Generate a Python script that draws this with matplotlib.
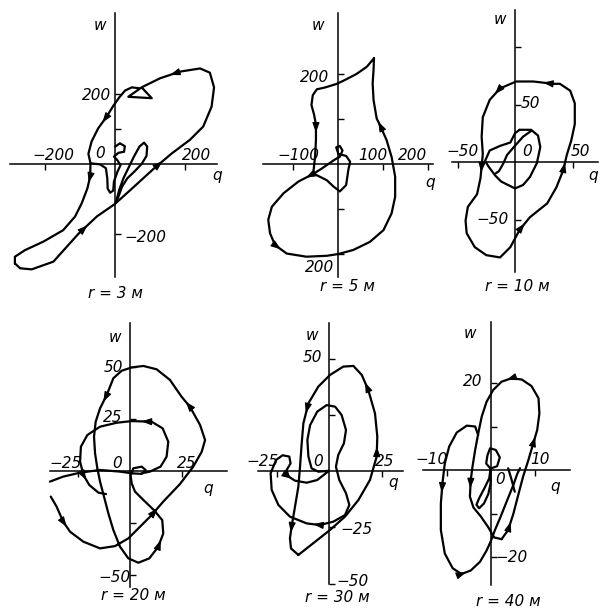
# Hodographs of (q, w) for six distances r, redrawn from a scanned figure
import numpy as np
import matplotlib.pyplot as plt

W, H = 600, 613

# ---- r = 3 m ----
q3_outer = [-286, -271, -238, -176, -105, -52, 0, 52, 110, 162, 214, 252, 276, 283, 271, 243,
            186, 129, 76, 105, 38, 72, 48, 29, 12, -5, -24, -48, -67, -76, -70, -71, -79, -95,
            -114, -148, -205, -257, -286]
w3_outer = [-284, -298, -301, -279, -200, -150, -114, -67, -14, 30, 69, 107, 164, 219, 261, 273,
            264, 245, 219, 188, 192, 216, 219, 210, 190, 166, 135, 102, 64, 29, 2, -36, -70, -112,
            -150, -189, -222, -246, -265]
q3_droop = [-70, -43, -26, -22, -21, -14, -5, -3, 7, 16, 5, -3, 10, 26, 28, 14, 1]
w3_droop = [2, -1, -12, -41, -70, -82, -76, -50, -22, -3, 13, 21, 32, 35, 51, 59, 50]
q3_loop = [5, 12, 24, 38, 54, 70, 83, 92, 90, 76, 55, 35, 20, 10, 0]
w3_loop = [-101, -74, -41, -12, 21, 50, 61, 50, 23, 0, -22, -41, -65, -93, -114]

# ---- r = 5 m ----
q5 = [80, 64, 41, 16, -3, -29, -47, -56, -59, -53, -49, -49, -51, -55, -25, -10, 4, 18, 23, 27,
      18, 1, -4, 4, 10, 4, -7, -36, -55, -88, -121, -147, -155, -151, -140, -114, -70, -25, 1, 34,
      71, 101, 119, 127, 127, 119, 108, 93, 86, 79, 77, 79]
w5 = [235, 216, 200, 187, 178, 170, 166, 153, 131, 109, 87, 53, 16, -21, -36, -50, -61, -47, -13, 5,
      18, 22, 37, 40, 30, 16, 10, -10, -22, -39, -65, -95, -124, -154, -180, -199, -206, -204, -200, -191,
      -173, -147, -110, -73, -28, 16, 53, 87, 101, 142, 179, 209]

# ---- r = 10 m ----
q10_outer = [33, 16, 1, -13, -22, -28, -29, -28, -29, -30, -33, -41, -43, -42, -35, -25, -13, -4,
             4, 13, 28, 36, 42, 45, 49, 52, 52, 48, 39]
w10_outer = [68, 70, 70, 64, 54, 39, 22, 7, -4, -14, -28, -39, -51, -62, -74, -81, -83, -74,
             -59, -48, -36, -22, -7, 6, 19, 33, 51, 62, 68]
q10_inner = [4, 14, 20, 22, 19, 13, 7, 0, -6, -12, -17, -23, -26, -22, -13, -4, 0]
w10_inner = [28, 28, 23, 13, -1, -13, -20, -23, -20, -17, -12, -4, 1, 10, 14, 17, 25]
q10_s = [14, 7, -1, -7, -10, -14, -17]
w10_s = [27, 22, 13, 6, -1, -8, -10]

# ---- r = 20 m ----
q20_outer = [-38.1, -35.3, -32.1, -28.8, -22.4, -14.4, -7.2, -0.8, 4.8, 10.4, 16.0, 24.0, 30.4, 34.5,
             36.1, 33.7, 28.8, 24.8, 19.2, 12.8, 6.4, 0.8, -4.0, -8.0, -11.2, -14.4, -16.5, -17.3,
             -16.8, -15.7, -14.4, -12.5, -10.4, -8.0, -4.8, -0.8, 4.0, 9.3, 13.6, 16.0, 15.5, 11.5,
             6.4, 2.4, 0.8, 0.3, 1.6, 5.6, 7.5, 5.6, 0.8, -4.8, -14.4, -24.0, -32.1, -38.5]
w20_outer = [-12.3, -17.1, -24.4, -29.2, -34.0, -37.2, -36.1, -32.4, -26.8, -21.2, -14.7, -6.3, 2.1, 9.3,
             14.9, 22.1, 30.9, 35.7, 43.8, 48.9, 50.5, 49.8, 48.2, 44.6, 36.5, 30.1, 23.7, 16.5,
             8.5, 1.3, -5.1, -12.3, -20.4, -28.4, -36.4, -42.0, -44.1, -42.0, -36.4, -30.0, -23.6, -18.8,
             -13.9, -9.9, -5.9, -2.2, 1.3, 2.1, 0.5, -1.4, -1.1, -0.3, 0.5, -0.8, -2.7, -5.1]
q20_inner = [5.6, 9.6, 14.7, 17.6, 18.4, 15.7, 10.4, 0.8, -6.4, -14.4, -20.5, -23.6, -24.0, -22.4,
             -19.6, -15.2, -11.5]
w20_inner = [-1.1, -0.3, 2.1, 6.9, 14.1, 20.5, 23.7, 24.0, 23.2, 21.3, 17.3, 11.7, 4.5, -1.9,
             -6.7, -10.4, -11.1]

# ---- r = 30 m ----
q30_outer = [-14.6, -7.5, 0.5, 7.6, 14.0, 19.5, 22.7, 23.0, 21.9, 18.7, 15.6, 11.6, 6.8, 0.5,
             -5.1, -9.8, -12.2, -13.0, -13.8, -14.6, -16.2, -17.8, -18.6, -18.1]
w30_outer = [-37.3, -32.1, -26.2, -20.3, -12.9, -4.0, 6.4, 15.3, 25.6, 36.0, 42.7, 46.7, 46.4, 42.7,
             37.5, 30.1, 21.2, 12.3, 1.9, -7.0, -15.9, -24.7, -29.9, -34.4]
q30_inner = [0, -5.1, -8.3, -9.8, -10.3, -9.0, -5.6, -1.1, 2.9, 6.0, 8.1, 7.1, 4.4, 3.3, 4.9, 8.1,
             9.7, 7.6, 2.1, -4.3, -10.6, -18.6, -24.1, -27.3, -27.8, -25.2, -22.1, -18.9, -18.3,
             -20.2, -19.2, -16.2, -10.6, -5.6, -1.9]
w30_inner = [0.1, -0.3, 1.2, 6.4, 13.8, 20.4, 26.4, 29.3, 28.6, 24.9, 18.2, 12.3, 7.1, 1.9, -4.0, -9.9,
             -15.1, -19.6, -22.5, -24.0, -23.3, -20.3, -15.1, -8.4, -1.0, 4.9, 7.0, 6.4, 3.4,
             0.4, -2.5, -4.3, -5.2, -4.0, -1.3]

# ---- r = 40 m ----
q40_right = [2.4, 3.9, 5.1, 6.2, 7.3, 8.5, 9.6, 10.5, 11.0, 10.8, 9.2, 7.0, 4.7, 2.4, 0.5, -1.0,
             -2.1, -2.9, -3.6, -4.2, -4.6, -4.8, -4.0, -2.3, -0.6, 0.7]
w40_right = [-15.9, -13.8, -10.0, -5.7, -1.5, 2.3, 6.1, 9.2, 13.0, 16.5, 19.3, 20.8, 21.1, 20.3, 18.4, 15.7,
             12.3, 8.4, 4.6, 0.8, -2.3, -6.1, -8.6, -10.7, -13.2, -15.5]
q40_left = [-2.9, -3.6, -5.5, -7.8, -9.5, -10.5, -11.0, -11.4, -11.4, -10.5, -8.7, -6.7, -4.6,
            -2.5, -1.0, -0.1, 0.9, 2.2, 3.7, 5.1, 6.0, 6.6]
w40_left = [8.0, 10.0, 10.2, 8.6, 5.4, 1.5, -2.7, -7.7, -13.8, -19.2, -22.6, -23.9, -23.1,
            -21.1, -18.5, -16.5, -13.8, -10.7, -6.9, -3.4, -0.8, 0.4]
q40_arm = [3.9, 4.7, 5.4]
w40_arm = [0.4, -2.3, -5.0]
q40_eight = [-0.1, -1.1, -0.8, -0.2, 1.1, 2.0, 1.4, -0.1, -0.1, -0.1, -0.6, -1.6, -2.7, -3.3,
             -2.7, -1.4, -0.4, -0.1]
w40_eight = [0.3, 1.5, 3.4, 5.0, 4.6, 2.9, 0.9, 0.3, -0.8, -3.1, -5.5, -7.7, -8.8, -8.0,
             -6.5, -4.0, -1.9, 0.3]

fig = plt.figure(figsize=(W / 100, H / 100), dpi=100)
fig.patch.set_facecolor('white')

LW = 1.6


def make_panel(ox, oy, sx, sy, box, xb, yb, xt, yt):
    # box in pixels (x0, y0, x1, y1); origin (ox, oy) in pixels; sx, sy pixels per unit
    x0, y0, x1, y1 = box
    ax = fig.add_axes([x0 / W, 1 - y1 / H, (x1 - x0) / W, (y1 - y0) / H])
    ax.set_xlim((x0 - ox) / sx, (x1 - ox) / sx)
    ax.set_ylim((oy - y1) / sy, (oy - y0) / sy)
    ax.patch.set_alpha(0)
    ax.spines['top'].set_visible(False)
    ax.spines['right'].set_visible(False)
    ax.spines['left'].set_position(('data', 0))
    ax.spines['bottom'].set_position(('data', 0))
    ax.spines['left'].set_bounds(*yb)
    ax.spines['bottom'].set_bounds(*xb)
    for sp in ('left', 'bottom'):
        ax.spines[sp].set_linewidth(1.1)
    ax.set_xticks(xt)
    ax.set_yticks(yt)
    ax.set_xticklabels([])
    ax.set_yticklabels([])
    ax.tick_params(axis='x', direction='out', length=4, width=1.0)
    ax.tick_params(axis='y', direction='in', length=4, width=1.0)
    return ax


def curve(ax, q, w, arrows=(), closed=False):
    q = list(q)
    w = list(w)
    if closed:
        q = q + q[:1]
        w = w + w[:1]
    ax.plot(q, w, color='black', lw=LW, solid_joinstyle='round', solid_capstyle='round')
    for i in arrows:
        xm = (q[i] + q[i + 1]) / 2
        ym = (w[i] + w[i + 1]) / 2
        ax.annotate('', xy=(xm, ym), xytext=(q[i], w[i]),
                    arrowprops=dict(arrowstyle='-|>,head_length=0.5,head_width=0.18',
                                    color='black', lw=0.8, shrinkA=0, shrinkB=0,
                                    mutation_scale=12))


def label(x, y, s, size=11):
    fig.text(x / W, 1 - y / H, s, ha='center', va='center', style='italic', fontsize=size)


# panel r = 3 m
ax = make_panel(115, 164, 0.35, 0.35, (0, 5, 225, 285), (-300, 291), (-323, 431),
                [-200, 200], [-200, 100, 200])
curve(ax, q3_outer, w3_outer, arrows=[4, 8, 16, 26, 31], closed=True)
curve(ax, q3_droop, w3_droop)
curve(ax, q3_loop, w3_loop)
for s, x, y in [('\u2212200', 53, 155), ('200', 197, 155), ('0', 100, 154), ('200', 97, 96),
                ('\u2212200', 145, 238), ('w', 100, 25), ('q', 217, 176), ('r = 3 м', 115, 293)]:
    label(x, y, s)

# panel r = 5 m
ax = make_panel(338, 164, 0.45, 0.45, (225, 5, 440, 285), (-167, 210), (-251, 336),
                [-100, 100, 200], [-200, -100, 100, 200])
curve(ax, q5, w5, arrows=[10, 28, 34, 47], closed=True)
for s, x, y in [('200', 315, 77), ('\u2212100', 298, 155), ('100', 373, 155), ('200', 413, 155),
                ('200', 320, 267), ('w', 318, 25), ('q', 430, 182), ('r = 5 м', 347, 287)]:
    label(x, y, s)

# panel r = 10 m
ax = make_panel(515, 162, 1.15, 1.15, (440, 5, 600, 285), (-55, 72), (-96, 132),
                [-50, 50], [-50, 50, 100])
curve(ax, q10_outer, w10_outer, arrows=[0, 3, 8, 18, 22], closed=True)
curve(ax, q10_inner, w10_inner, closed=True)
curve(ax, q10_s, w10_s)
for s, x, y in [('\u221250', 463, 152), ('0', 527, 152), ('50', 580, 152), ('50', 530, 103),
                ('\u221250', 493, 220), ('w', 500, 20), ('q', 593, 176), ('r = 10 м', 517, 287)]:
    label(x, y, s)

# panel r = 20 m
ax = make_panel(130, 471, 2.08, 2.08, (48, 310, 235, 595), (-38.5, 46.6), (-56, 71),
                [-25, 25], [-50, -25, 25, 50])
curve(ax, q20_outer, w20_outer, arrows=[2, 9, 16, 24, 38])
curve(ax, q20_inner, w20_inner, arrows=[6, 13])
for s, x, y in [('\u221225', 66, 463), ('0', 117, 463), ('25', 187, 463), ('50', 113, 367),
                ('25', 113, 418), ('\u221250', 115, 577), ('w', 115, 337), ('q', 208, 488),
                ('r = 20 м', 133, 596)]:
    label(x, y, s)

# panel r = 30 m
ax = make_panel(329, 471, 2.1, 2.25, (240, 310, 420, 595), (-34, 35), (-50, 66),
                [-25, 25], [-50, -25, 25, 50])
curve(ax, q30_outer, w30_outer, arrows=[6, 9, 15, 21], closed=True)
curve(ax, q30_inner, w30_inner, arrows=[19, 30], closed=True)
for s, x, y in [('\u221225', 263, 462), ('0', 318, 462), ('25', 385, 462), ('50', 312, 358),
                ('\u221225', 357, 530), ('\u221250', 353, 582), ('w', 312, 335), ('q', 393, 482),
                ('r = 30 м', 337, 598)]:
    label(x, y, s)

# panel r = 40 m
ax = make_panel(491, 470, 4.4, 4.35, (420, 310, 600, 595), (-15.5, 18), (-26.4, 34),
                [-10, 10], [-20, -10, 10, 20])
curve(ax, q40_right, w40_right, arrows=[1, 6, 12, 20], closed=True)
curve(ax, q40_left, w40_left, arrows=[6, 11])
curve(ax, q40_arm, w40_arm)
curve(ax, q40_eight, w40_eight)
for s, x, y in [('\u221210', 432, 460), ('10', 540, 460), ('0', 500, 480), ('20', 473, 382),
                ('\u221220', 512, 558), ('w', 470, 333), ('q', 555, 487), ('r = 40 м', 508, 602)]:
    label(x, y, s)

fig.savefig('out.png', dpi=100, facecolor='white')
